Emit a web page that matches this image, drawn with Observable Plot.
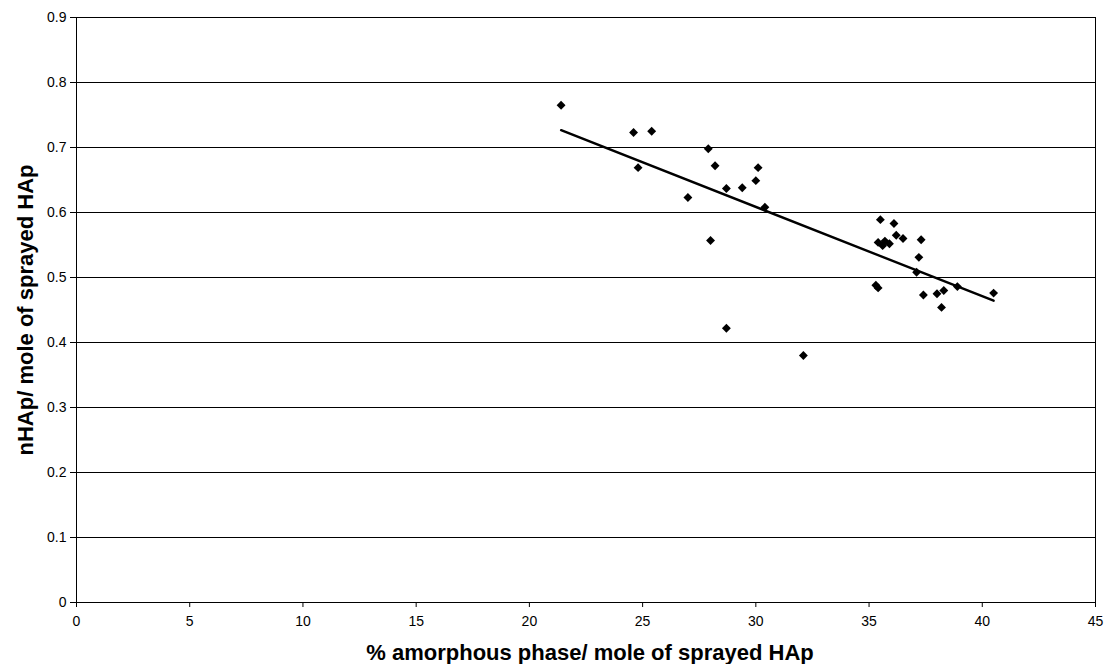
<!DOCTYPE html>
<html>
<head>
<meta charset="utf-8">
<script src="https://cdn.jsdelivr.net/npm/d3@7"></script>
<script src="https://cdn.jsdelivr.net/npm/@observablehq/plot@0.6"></script>
<style>
  html, body { margin: 0; padding: 0; background: #fff; }
  #chart { width: 1104px; height: 664px; }
  svg { font-family: "Liberation Sans", Arial, sans-serif; }
</style>
</head>
<body>
<div id="chart"></div>
<script>
const amorphous = [21.4, 24.6, 25.4, 24.8, 27.0, 27.9, 28.2, 28.0, 28.7, 29.4, 30.0, 30.1, 30.4, 28.7, 32.1,
  35.5, 36.1, 36.2, 36.5, 37.3, 35.4, 35.6, 35.7, 35.9, 37.2, 37.1, 35.3, 35.4, 37.4, 38.0, 38.3, 38.2, 38.9, 40.5];
const nHAp = [0.765, 0.723, 0.725, 0.669, 0.623, 0.698, 0.672, 0.557, 0.637, 0.638, 0.649, 0.669, 0.608, 0.422, 0.380,
  0.589, 0.583, 0.565, 0.560, 0.558, 0.554, 0.549, 0.556, 0.552, 0.531, 0.508, 0.488, 0.484, 0.473, 0.475, 0.480, 0.454, 0.486, 0.476];
const xTicks = [0, 5, 10, 15, 20, 25, 30, 35, 40, 45];
const yTicks = [0, 0.1, 0.2, 0.3, 0.4, 0.5, 0.6, 0.7, 0.8, 0.9];
const xTitle = "% amorphous phase/ mole of sprayed HAp";
const yTitle = "nHAp/ mole of sprayed HAp";

const data = amorphous.map((x, i) => ({x, y: nHAp[i]}));

const chart = Plot.plot({
  width: 1104,
  height: 664,
  marginLeft: 76,
  marginRight: 9,
  marginTop: 17,
  marginBottom: 62,
  style: {fontFamily: "'Liberation Sans', Arial, sans-serif", fontSize: "14px", color: "#000", background: "#fff"},
  x: {domain: [0, 45], label: null},
  y: {domain: [0, 0.9], label: null},
  marks: [
    Plot.gridY(yTicks, {stroke: "#000", strokeOpacity: 1, strokeWidth: 1}),
    Plot.frame({stroke: "#000", strokeWidth: 1}),
    Plot.axisX({ticks: xTicks, tickSize: 5, tickPadding: 9, tickFormat: d => String(d), label: null, stroke: "#000", fontSize: 14}),
    Plot.axisY({ticks: yTicks, tickSize: 6, tickPadding: 4, tickFormat: d => String(d), label: null, stroke: "#000", fontSize: 14}),
    Plot.linearRegressionY(data, {x: "x", y: "y", ci: 0, stroke: "#000", strokeWidth: 2.4}),
    Plot.dot(data, {x: "x", y: "y", symbol: "diamond2", r: 4, fill: "#000", stroke: "none"})
  ]
});

const svg = d3.select(chart);
svg.append("text")
  .attr("x", 590).attr("y", 660)
  .attr("text-anchor", "middle")
  .attr("font-weight", "bold").attr("font-size", 22)
  .attr("fill", "#000")
  .text(xTitle);
svg.append("text")
  .attr("transform", "translate(33,310) rotate(-90)")
  .attr("text-anchor", "middle")
  .attr("font-weight", "bold").attr("font-size", 22)
  .attr("fill", "#000")
  .text(yTitle);

document.getElementById("chart").appendChild(chart);
</script>
</body>
</html>
